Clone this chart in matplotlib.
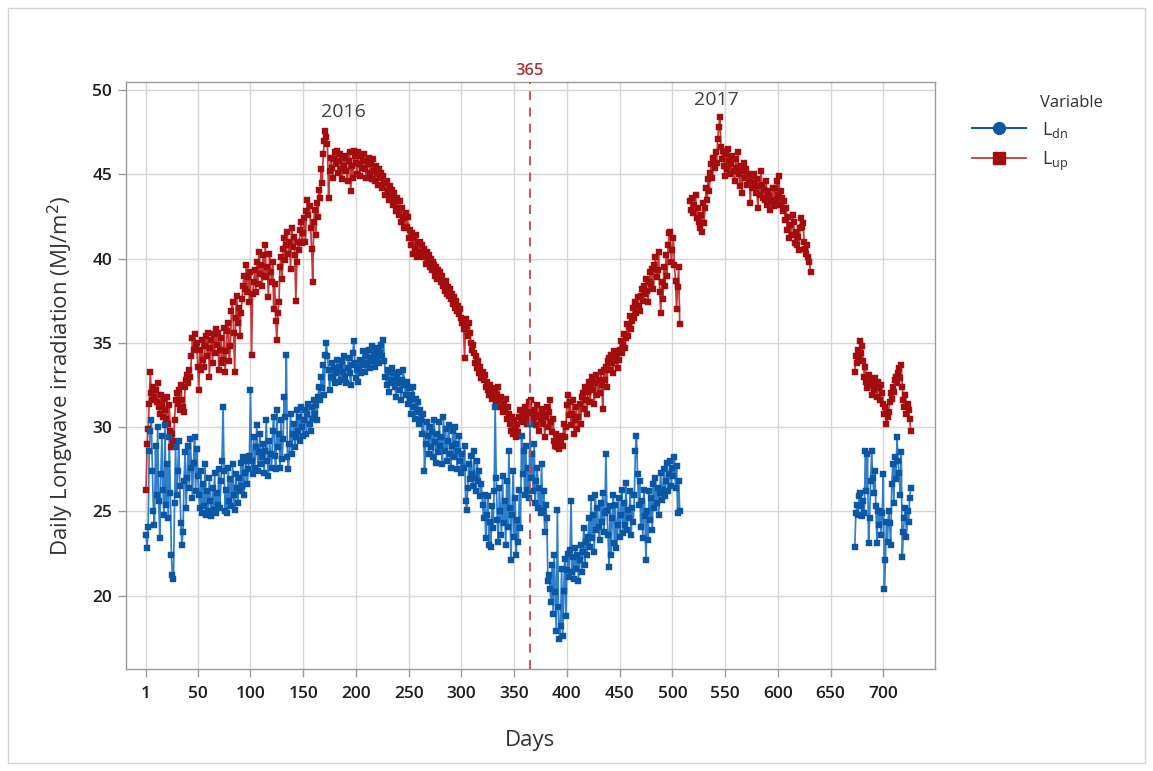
import numpy as np
import matplotlib
matplotlib.use("Agg")
import matplotlib.pyplot as plt
from matplotlib.lines import Line2D
from matplotlib.patches import Rectangle

# ---------------- data: daily longwave irradiation (MJ/m^2) ----------------
# Downward longwave (L_dn), first block starts on day 1
ldn_start_1 = 1
ldn_block_1 = [
    23.6, 22.8, 24.1, 28.6, 29.8, 30.4, 27.4, 25.0, 24.2, 28.9,
    26.0, 30.0, 25.6, 23.4, 27.2, 29.5, 26.3, 24.8, 30.1, 25.4,
    27.8, 24.6, 29.4, 26.1, 22.4, 21.2, 21.0, 25.5, 28.8, 26.0,
    27.4, 29.2, 26.5, 24.3, 23.0, 23.8, 26.8, 28.5, 25.2, 27.0,
    28.9, 26.4, 29.3, 27.6, 25.8, 27.9, 29.4, 26.2, 28.7, 27.1,
    26.0, 25.2, 27.4, 24.9, 26.6, 25.3, 27.8, 24.8, 26.2, 25.0,
    27.0, 25.6, 24.7, 26.4, 25.1, 27.3, 24.9, 26.1, 25.4, 27.5,
    25.2, 26.8, 28.0, 31.2, 27.4, 25.0, 26.3, 24.9, 27.6, 25.6,
    26.9, 25.3, 27.8, 26.0, 25.1, 27.2, 26.4, 25.5, 27.0, 26.2,
    27.9, 26.5, 28.2, 26.0, 27.3, 28.0, 26.6, 27.5, 28.3, 32.2,
    28.0, 27.2, 29.4, 27.6, 28.8, 30.1, 27.4, 28.5, 29.6, 27.8,
    28.2, 29.0, 27.3, 28.6, 30.4, 28.0, 27.1, 29.2, 28.4, 27.6,
    29.8, 30.6, 28.3, 27.5, 31.0, 28.8, 29.6, 27.6, 30.4, 28.1,
    29.3, 31.8, 30.6, 34.3, 28.2, 27.5, 29.0, 30.8, 28.4, 29.6,
    30.2, 28.8, 29.4, 31.0, 29.8, 30.6, 29.2, 31.2, 30.0, 29.5,
    30.4, 31.0, 29.6, 30.8, 31.4, 30.2, 29.8, 31.2, 30.5, 31.6,
    30.8, 31.3, 30.4, 31.8, 32.4, 31.6, 33.0, 32.3, 33.7, 31.9,
    34.3, 35.0, 34.2, 33.4, 32.2, 33.0, 33.8, 32.9, 33.5, 32.6,
    33.2, 34.0, 33.4, 32.7, 33.6, 32.8, 33.9, 33.3, 34.2, 33.0,
    32.6, 33.5, 34.1, 33.2, 32.5, 33.7, 34.4, 35.1, 33.8, 32.9,
    33.4, 32.7, 33.6, 34.0, 33.2, 33.9, 34.5, 33.7, 33.3, 34.2,
    33.8, 34.6, 33.5, 34.1, 34.8, 33.9, 34.3, 33.6, 34.5, 34.0,
    34.7, 33.8, 34.4, 34.9, 34.2, 35.2, 33.9, 33.0, 32.5, 33.4,
    32.1, 33.3, 32.8, 33.5, 32.6, 33.2, 32.4, 31.8, 33.0, 32.6,
    33.3, 32.2, 31.6, 32.8, 33.4, 32.5, 31.9, 32.7, 31.4, 32.3,
    31.6, 30.8, 31.9, 32.4, 31.2, 30.5, 31.7, 30.9, 31.5, 30.2,
    31.0, 30.4, 29.6, 30.8, 27.4, 29.0, 30.3, 29.5, 28.4, 30.0,
    28.8, 29.7, 28.2, 30.4, 29.1, 27.9, 29.6, 28.5, 30.3, 28.9,
    29.4, 27.8, 30.6, 28.6, 29.9, 28.0, 29.2, 30.1, 28.4, 27.6,
    28.9, 29.8, 28.2, 30.0, 29.0, 27.5, 28.6, 29.5, 28.0, 27.3,
    28.4, 27.6, 28.9, 25.6, 25.1, 26.4, 27.8, 26.9, 28.3, 27.2,
    26.5, 28.6, 27.0, 26.2, 28.0, 26.8, 27.4, 25.9, 26.6, 25.4,
    24.6, 26.0, 23.4, 24.8, 25.9, 23.0, 24.4, 22.9, 25.3, 24.0,
    26.2, 31.2, 27.0, 24.5, 23.2, 26.4, 25.0, 23.6, 27.1, 24.3,
    25.6, 23.0, 26.8, 24.1, 28.6, 25.2, 22.1, 24.8, 27.4, 23.5,
    25.8, 22.4, 24.5, 23.2, 26.3, 24.0, 29.5, 27.2, 28.6, 26.0,
    28.9, 26.3, 27.6, 25.8, 30.2, 27.0, 28.4, 26.2, 29.0, 25.5,
    26.8, 27.6, 25.2, 26.4, 24.9, 27.8, 25.0, 26.2, 23.8, 25.4,
    24.6, 20.9, 21.2, 20.4, 19.6, 21.8, 18.9, 22.4, 20.2, 17.9,
    25.1, 19.3, 17.4, 18.2, 21.6, 17.6, 20.3, 22.2, 18.8, 21.5,
    22.5, 21.1, 22.7, 25.6, 21.4, 22.3, 21.0, 22.8, 21.6, 22.4,
    20.9, 22.1, 23.0, 21.4, 22.6, 24.0, 21.8, 23.2, 22.4, 23.5,
    24.6, 22.9, 25.8, 23.4, 24.8, 22.6, 26.0, 23.9, 25.2, 24.1,
    23.3, 25.5, 24.4, 26.1, 23.8, 24.9, 28.4, 25.0, 23.6, 21.7,
    25.3, 22.4, 24.6, 26.0, 23.1, 25.4, 22.8, 24.2, 25.8, 23.5,
    24.8, 26.3, 23.7, 25.5, 24.2, 26.7, 23.9, 25.1, 24.6, 26.2,
    23.6, 25.2, 24.4, 26.0, 28.6, 29.5, 27.2, 25.4, 26.8, 24.1,
    25.6, 23.4, 26.3, 24.7, 22.1, 25.0, 23.3, 26.2, 24.5, 25.8,
    23.9, 26.6, 25.2, 27.0, 25.5, 26.4, 24.8, 26.1, 27.3, 25.7,
    26.3, 27.5, 25.9, 26.8, 27.9, 26.2, 27.2, 28.0, 26.5, 27.6,
    27.1, 28.2, 26.4, 27.7, 24.9, 26.8, 25.0,
]
ldn_start_2 = 673
ldn_block_2 = [
    22.9, 24.9, 25.4, 24.8, 25.9, 26.1, 25.3, 24.7, 25.6, 24.9,
    28.6, 26.2, 28.4, 23.1, 24.6, 26.8, 28.6, 27.0, 26.1, 27.4,
    25.3, 23.1, 25.0, 24.2, 25.0, 23.6, 24.9, 27.2, 20.4, 22.1,
    24.4, 23.2, 25.0, 24.3, 23.0, 26.6, 27.8, 25.5, 28.2, 26.9,
    29.4, 28.0, 27.3, 26.0, 28.5, 22.3, 23.8, 24.6, 25.2, 23.5,
    25.0, 24.4, 25.8, 26.4,
]

# Upward longwave (L_up)
lup_start_1 = 1
lup_block_1 = [
    26.3, 29.0, 29.9, 31.4, 33.3, 32.0, 31.6, 32.4, 31.8, 32.2,
    31.5, 32.6, 31.2, 30.8, 31.9, 31.4, 30.6, 31.7, 31.0, 30.5,
    31.8, 30.2, 31.3, 29.8, 28.8, 29.6, 29.2, 30.4, 31.6, 32.0,
    31.4, 32.2, 31.0, 32.5, 31.6, 31.2, 30.9, 32.4, 32.8, 33.1,
    32.6, 33.4, 33.0, 34.2, 35.3, 34.6, 35.5, 34.8, 35.0, 33.6,
    32.2, 34.6, 33.4, 35.2, 34.0, 33.6, 34.8, 35.4, 34.2, 35.6,
    33.0, 34.7, 35.2, 33.8, 35.5, 34.4, 35.8, 34.9, 35.6, 33.4,
    34.6, 35.3, 33.8, 34.0, 35.9, 33.3, 34.5, 35.7, 36.2, 33.9,
    34.8, 36.9, 37.4, 35.6, 33.3, 36.5, 37.8, 36.2, 37.1, 35.4,
    36.8, 37.6, 38.4, 39.0, 38.2, 39.6, 38.0, 38.9, 37.4, 39.2,
    34.3, 37.9, 38.6, 39.3, 38.0, 39.8, 38.5, 40.4, 39.1, 39.6,
    38.4, 40.2, 39.0, 40.8, 38.9, 39.5, 37.7, 40.3, 39.2, 38.6,
    39.8, 37.0, 38.5, 36.3, 35.2, 36.8, 37.4, 39.5, 40.1, 38.8,
    40.6, 41.2, 39.9, 40.8, 41.6, 40.3, 41.0, 39.4, 41.8, 40.7,
    41.3, 40.2, 37.5, 39.8, 41.0, 40.5, 41.7, 42.2, 40.9, 41.5,
    42.4, 41.0, 42.8, 43.5, 42.6, 43.1, 41.8, 40.6, 38.6, 42.2,
    42.9, 41.4, 43.3, 42.5, 44.1, 43.6, 45.3, 44.5, 46.2, 47.0,
    47.6, 47.2, 46.8, 43.6, 45.2, 46.0, 45.4, 44.8, 45.9, 46.3,
    45.6, 46.4, 45.1, 45.8, 46.2, 45.3, 44.7, 46.0, 45.5, 46.1,
    45.2, 44.6, 45.8, 46.3, 44.0, 45.5, 44.8, 46.4, 46.1, 45.7,
    45.0, 46.3, 45.6, 44.9, 46.1, 45.4, 45.8, 46.2, 45.3, 44.8,
    45.7, 46.0, 45.1, 45.6, 44.7, 45.9, 45.2, 44.6, 45.5, 45.0,
    44.4, 45.3, 44.8, 45.1, 44.2, 44.9, 44.5, 43.8, 44.6, 44.0,
    43.5, 44.3, 43.7, 44.1, 43.2, 43.9, 43.4, 42.8, 43.6, 43.0,
    42.6, 43.4, 42.2, 43.0, 42.4, 41.8, 42.7, 41.9, 42.5, 41.2,
    41.7, 40.8, 41.5, 40.3, 41.2, 40.6, 41.4, 40.1, 40.9, 40.4,
    41.0, 40.3, 40.8, 40.1, 40.6, 39.7, 40.4, 39.9, 40.2, 39.5,
    40.0, 39.3, 39.8, 39.6, 39.0, 39.5, 38.8, 39.3, 38.9, 39.2,
    38.6, 39.0, 38.4, 38.1, 38.7, 37.9, 38.3, 37.8, 38.2, 37.6,
    37.9, 37.3, 37.7, 37.1, 37.5, 36.9, 37.2, 36.7, 37.0, 36.5,
    36.2, 35.8, 34.1, 36.4, 36.0, 35.4, 36.2, 35.6, 35.0, 34.6,
    34.9, 34.4, 33.8, 34.2, 33.5, 33.9, 33.2, 33.6, 32.9, 33.3,
    32.8, 33.1, 32.4, 32.7, 32.2, 31.9, 32.5, 32.0, 31.7, 32.3,
    31.8, 32.1, 31.5, 31.9, 32.4, 31.6, 31.2, 31.8, 30.9, 31.4,
    31.0, 31.7, 30.5, 31.2, 30.8, 30.2, 29.8, 30.6, 29.6, 30.4,
    29.9, 29.4, 30.2, 29.7, 30.6, 31.0, 30.3, 30.9, 30.5, 31.2,
    30.7, 30.2, 30.9, 31.5, 30.4, 31.6, 30.8, 30.3, 31.0, 30.6,
    30.1, 31.3, 30.7, 29.8, 30.5, 31.1, 30.2, 30.8, 29.4, 30.6,
    31.2, 30.0, 30.9, 31.6, 30.3, 29.7, 30.5, 29.2, 28.9, 29.6,
    28.8, 29.3, 28.7, 29.1, 29.5, 28.9, 30.2, 29.4, 30.0, 31.3,
    31.9, 30.7, 31.5, 30.1, 30.8, 31.6, 29.6, 30.4, 31.2, 29.9,
    30.6, 31.4, 30.2, 31.8, 32.0, 31.1, 32.4, 31.6, 30.8, 32.1,
    32.7, 31.5, 32.3, 33.0, 32.2, 31.4, 32.6, 33.1, 31.9, 32.8,
    32.0, 33.3, 32.5, 31.1, 33.4, 32.8, 33.6, 32.4, 33.9, 34.1,
    33.4, 34.3, 33.8, 33.2, 34.5, 33.9, 34.2, 33.5, 34.0, 34.6,
    35.1, 34.4, 34.9, 35.5, 34.7, 35.3, 36.1, 35.4, 36.0, 36.6,
    35.8, 36.3, 37.1, 36.5, 37.4, 36.8, 37.7, 37.2, 36.9, 37.8,
    38.2, 37.5, 38.4, 37.9, 38.8, 38.1, 37.4, 38.6, 39.2, 38.5,
    39.4, 38.2, 39.6, 40.1, 38.9, 39.3, 40.4, 38.0, 36.8, 38.6,
    37.6, 39.5, 38.4, 40.2, 39.0, 40.8, 41.5, 41.6, 39.8, 40.5,
    41.2, 39.6, 38.7, 37.0, 38.3, 39.5, 36.1,
]
lup_start_2 = 517
lup_block_2 = [
    43.4, 42.9, 43.6, 42.7, 43.2, 43.8, 42.4, 43.0, 42.2, 41.8,
    42.6, 41.6, 43.3, 42.1, 43.0, 44.2, 43.5, 44.7, 44.0, 45.1,
    45.6, 44.8, 46.0, 45.4, 46.3, 45.7, 47.1, 47.8, 48.4, 46.6,
    45.9, 46.4, 45.5, 44.9, 46.2, 45.3, 46.5, 45.8, 45.0, 45.6,
    46.1, 45.2, 44.6, 45.9, 45.4, 46.3, 45.0, 44.3, 45.5, 43.9,
    45.2, 45.7, 44.8, 45.3, 44.4, 45.0, 44.6, 43.3, 44.9, 44.2,
    45.0, 44.5, 43.9, 44.7, 43.0, 44.3, 43.8, 45.2, 44.4, 43.6,
    44.1, 43.5, 44.6, 43.2, 44.0, 43.7, 42.9, 43.4, 44.2, 43.1,
    44.2, 43.5, 44.6, 43.8, 44.9, 43.2, 44.0, 43.6, 42.8, 43.4,
    42.3, 43.0, 41.7, 42.5, 41.2, 42.0, 41.4, 42.6, 42.2, 40.9,
    41.6, 40.8, 41.3, 40.5, 41.8, 42.4, 41.9, 42.1, 41.0, 40.6,
    40.3, 40.8, 40.1, 39.8, 39.2,
]
lup_start_3 = 673
lup_block_3 = [
    33.3, 34.2, 33.8, 34.6, 34.1, 35.1, 34.4, 34.8, 33.9, 33.0,
    33.6, 32.7, 32.3, 33.1, 32.5, 32.8, 31.9, 32.6, 32.2, 32.9,
    32.4, 31.8, 32.7, 32.3, 31.6, 32.5, 32.0, 31.4, 30.8, 31.2,
    30.2, 30.6, 30.9, 31.5, 32.0, 31.7, 32.4, 32.1, 32.8, 33.0,
    32.6, 33.2, 33.5, 32.9, 33.7, 32.4, 31.6, 31.2, 31.9, 30.8,
    31.4, 31.0, 30.5, 29.8,
]

x_ticks = [1, 50, 100, 150, 200, 250, 300, 350, 400, 450, 500, 550, 600, 650, 700]
y_ticks = [20, 25, 30, 35, 40, 45, 50]
year_boundary = 365
year_labels = ["2016", "2017"]
year_label_pos = [(188, 48.7), (542, 49.4)]

# ---------------- styling ----------------
plt.rcParams["font.family"] = ["Open Sans", "DejaVu Sans"]

BLUE_MARK = "#0b57a4"
BLUE_LINE = "#2f7fcc"
RED_MARK = "#a30d0d"
RED_LINE = "#c83a3a"
GRID = "#d6d6d6"
SPINE = "#9a9a9a"
TEXT = "#333333"

fig = plt.figure(figsize=(11.53, 7.71), dpi=100)
fig.patches.append(Rectangle((0.007, 0.01), 0.986, 0.98, transform=fig.transFigure,
                             fill=False, edgecolor="#d4d4d4", linewidth=1.0))
ax = fig.add_axes([0.1093, 0.1319, 0.7016, 0.7621])


def segment(start, values):
    days = np.arange(start, start + len(values))
    return days, np.asarray(values, dtype=float)


def draw_series(blocks, line_c, mark_c):
    for start, vals in blocks:
        d, v = segment(start, vals)
        ax.plot(d, v, color=line_c, linewidth=1.25, zorder=3)
        ax.plot(d, v, linestyle="none", marker="s", markersize=4.0,
                markerfacecolor=mark_c, markeredgecolor=mark_c,
                markeredgewidth=0.3, zorder=4)


draw_series([(lup_start_1, lup_block_1), (lup_start_2, lup_block_2),
             (lup_start_3, lup_block_3)], RED_LINE, RED_MARK)
draw_series([(ldn_start_1, ldn_block_1), (ldn_start_2, ldn_block_2)],
            BLUE_LINE, BLUE_MARK)

# year boundary marker
ax.axvline(year_boundary, color="#c9474a", linestyle=(0, (5, 4)), linewidth=1.3, zorder=5)
ax.text(year_boundary, 1.004, str(year_boundary), transform=ax.get_xaxis_transform(),
        ha="center", va="bottom", color="#b2343a", fontsize=12, fontweight="semibold")

for lbl, (xd, yd) in zip(year_labels, year_label_pos):
    ax.text(xd, yd, lbl, ha="center", va="center", color="#404040", fontsize=14)

ax.set_xlim(-18, 749)
ax.set_ylim(15.63, 50.5)
ax.set_xticks(x_ticks)
ax.set_yticks(y_ticks)
ax.grid(True, color=GRID, linewidth=1.0, zorder=0)
ax.set_axisbelow(True)
for s in ax.spines.values():
    s.set_color(SPINE)
    s.set_linewidth(1.0)
ax.tick_params(axis="both", colors=SPINE, length=6, width=1.0, labelsize=12.5,
               labelcolor="#1e1e1e", direction="out")
for lab in ax.get_xticklabels() + ax.get_yticklabels():
    lab.set_fontweight("semibold")
ax.tick_params(axis="x", pad=6)
ax.tick_params(axis="y", pad=4)

ax.set_xlabel("Days", fontsize=16, color=TEXT, labelpad=20)
ax.set_ylabel("Daily Longwave irradiation (MJ/m$^2$)", fontsize=16, color=TEXT, labelpad=12)

# legend
handles = [
    Line2D([], [], color=BLUE_MARK, linewidth=1.5, marker="o", markersize=8.5,
           markerfacecolor=BLUE_MARK, markeredgecolor=BLUE_MARK),
    Line2D([], [], color=RED_LINE, linewidth=1.3, marker="s", markersize=8,
           markerfacecolor=RED_MARK, markeredgecolor=RED_MARK),
]
labels = [r"L$_{\mathregular{dn}}$", r"L$_{\mathregular{up}}$"]
leg = fig.legend(handles, labels, loc="upper left",
                 bbox_to_anchor=(0.843, 0.845), frameon=False, fontsize=13,
                 handlelength=3.0, handletextpad=0.9, labelspacing=0.55,
                 borderpad=0, borderaxespad=0)
for t in leg.get_texts():
    t.set_color(TEXT)
fig.text(1040 / 1153, 1 - 103 / 771, "Variable", ha="left", va="center",
         fontsize=12, color=TEXT)

fig.savefig("out.png", dpi=100)
